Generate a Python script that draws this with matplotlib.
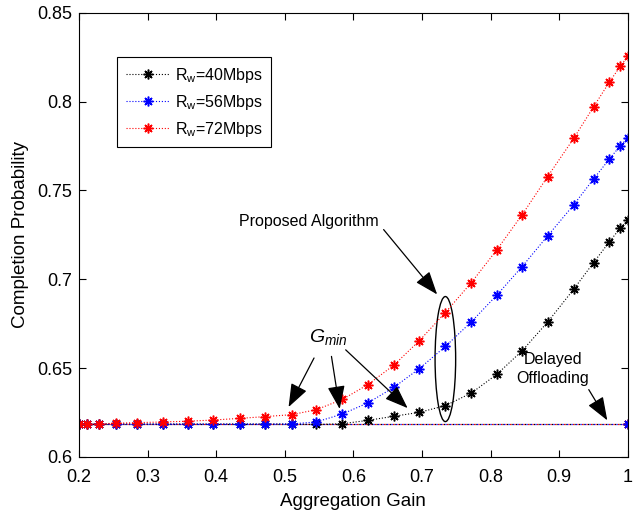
import matplotlib
matplotlib.use("Agg")
import matplotlib.pyplot as plt
from matplotlib.patches import Ellipse

plt.rcParams["font.family"] = ["Liberation Sans", "DejaVu Sans"]
plt.rcParams["mathtext.fontset"] = "custom"
plt.rcParams["mathtext.rm"] = "Liberation Sans"
plt.rcParams["mathtext.it"] = "Liberation Sans:italic"

# aggregation gain samples
gain = [0.2, 0.212, 0.229, 0.254, 0.285, 0.322, 0.359, 0.396, 0.434, 0.471,
        0.510, 0.546, 0.584, 0.621, 0.659, 0.696, 0.734, 0.772, 0.809, 0.846,
        0.883, 0.921, 0.950, 0.973, 0.989, 1.0]

# proposed algorithm
prob_40 = [0.6185, 0.6185, 0.6185, 0.6185, 0.6185, 0.6185, 0.6185, 0.6185, 0.6185, 0.6185,
           0.6185, 0.6183, 0.6187, 0.6206, 0.6229, 0.6251, 0.6289, 0.6360, 0.6465, 0.6598,
           0.6759, 0.6944, 0.7094, 0.7211, 0.7289, 0.7334]
prob_56 = [0.6185, 0.6185, 0.6185, 0.6185, 0.6185, 0.6185, 0.6185, 0.6185, 0.6185, 0.6185,
           0.6186, 0.6197, 0.6242, 0.6304, 0.6392, 0.6497, 0.6622, 0.6761, 0.6911, 0.7072,
           0.7244, 0.7419, 0.7565, 0.7677, 0.7752, 0.7797]
prob_72 = [0.6186, 0.6186, 0.6186, 0.6190, 0.6193, 0.6197, 0.6201, 0.6208, 0.6217, 0.6227,
           0.6238, 0.6266, 0.6324, 0.6407, 0.6517, 0.6654, 0.6813, 0.6982, 0.7166, 0.7364,
           0.7578, 0.7793, 0.7971, 0.8110, 0.8200, 0.8256]

# delayed offloading (flat)
delayed_gain = [0.2, 1.0]
delayed_prob = [0.6185, 0.6185]

labels = [r"R$_{\mathrm{w}}$=40Mbps", r"R$_{\mathrm{w}}$=56Mbps", r"R$_{\mathrm{w}}$=72Mbps"]
colors = ["k", "b", "r"]

xticks = [0.2, 0.3, 0.4, 0.5, 0.6, 0.7, 0.8, 0.9, 1.0]
xticklabels = ["0.2", "0.3", "0.4", "0.5", "0.6", "0.7", "0.8", "0.9", "1"]
yticks = [0.6, 0.65, 0.7, 0.75, 0.8, 0.85]
yticklabels = ["0.6", "0.65", "0.7", "0.75", "0.8", "0.85"]

FS = 13
FS_TXT = 11.5
star = (8, 2, 0)

fig = plt.figure(figsize=(6.42, 5.14), dpi=100)
ax = fig.add_axes([0.123, 0.111, 0.855, 0.864])

# delayed offloading lines, drawn first so they sit underneath
for i, c in enumerate(["k", "r", "b"]):
    ax.plot(delayed_gain, delayed_prob, color=c, lw=0.9,
            linestyle=(i * 1.2, (1.0, 2.6)), marker=star, ms=7, mew=1.1)

for y, c, lab in zip([prob_40, prob_56, prob_72], colors, labels):
    ax.plot(gain, y, color=c, lw=0.8, linestyle=":", marker=star,
            ms=7, mew=1.1, label=lab)

ax.set_xlim(0.2, 1.0)
ax.set_ylim(0.6, 0.85)
ax.set_xticks(xticks)
ax.set_xticklabels(xticklabels)
ax.set_yticks(yticks)
ax.set_yticklabels(yticklabels)
ax.tick_params(direction="in", top=True, right=True, length=5, labelsize=FS, width=0.8)
ax.tick_params(axis="x", pad=9)
ax.tick_params(axis="y", pad=5)
for s in ax.spines.values():
    s.set_linewidth(0.8)
ax.set_xlabel("Aggregation Gain", fontsize=13.5, labelpad=5)
ax.set_ylabel("Completion Probability", fontsize=13.5, labelpad=6)

leg = ax.legend(loc="upper left", bbox_to_anchor=(0.0695, 0.901), borderaxespad=0,
                fontsize=FS_TXT, frameon=True, fancybox=False, edgecolor="k",
                framealpha=1, handlelength=2.75, labelspacing=0.5, borderpad=0.55,
                handletextpad=0.3)
leg.get_frame().set_linewidth(0.8)

# ellipse around the proposed algorithm points
i = gain.index(0.734)
top, bot = prob_72[i], prob_40[i]
ax.add_patch(Ellipse((gain[i], (top + bot) / 2), 0.030, (top - bot) + 0.018,
                     fill=False, edgecolor="k", lw=1.0))

arrow = dict(arrowstyle="-|>,head_length=0.8,head_width=0.3", color="k", lw=0.9,
             shrinkA=0, shrinkB=0, mutation_scale=18)

ax.text(0.535, 0.7325, "Proposed Algorithm", fontsize=FS_TXT, ha="center", va="center")
ax.annotate("", xy=(0.722, 0.6915), xytext=(0.644, 0.728), arrowprops=arrow)

ax.text(0.5635, 0.6678, r"$G_{min}$", fontsize=14, ha="center", va="center")
ax.annotate("", xy=(0.5055, 0.6281), xytext=(0.5426, 0.6557), arrowprops=arrow)
ax.annotate("", xy=(0.580, 0.627), xytext=(0.568, 0.6566), arrowprops=arrow)
ax.annotate("", xy=(0.679, 0.6275), xytext=(0.5887, 0.6603), arrowprops=arrow)

ax.text(0.891, 0.6493, "Delayed\nOffloading", fontsize=FS_TXT, ha="center", va="center",
        linespacing=1.35)
ax.annotate("", xy=(0.970, 0.6206), xytext=(0.943, 0.6379), arrowprops=arrow)

fig.savefig("out.png", dpi=100)
